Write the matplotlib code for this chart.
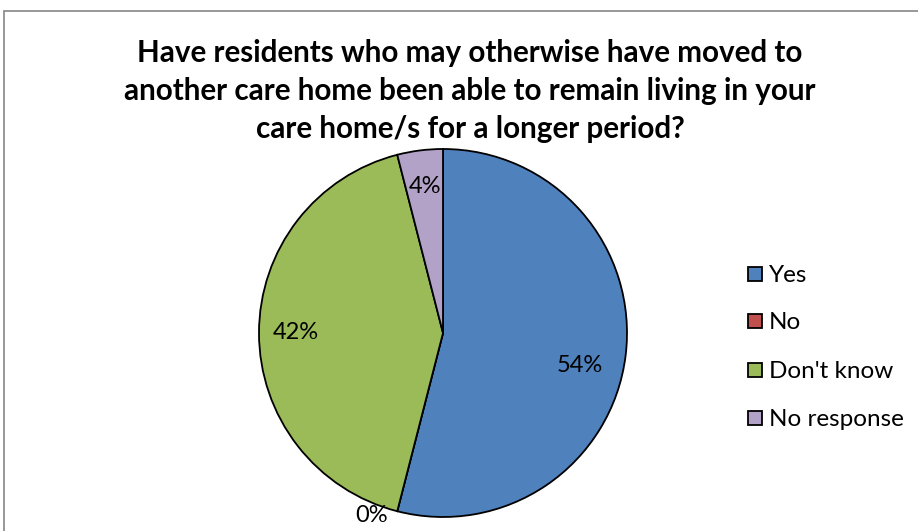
import matplotlib
matplotlib.use("Agg")
import matplotlib.pyplot as plt
import numpy as np
from matplotlib.patches import Rectangle

categories = ["Yes", "No", "Don't know", "No response"]
values = [54, 0, 42, 4]
colors = ["#4F81BD", "#C0504D", "#9BBB59", "#B3A2C7"]
title_lines = ["Have residents who may otherwise have moved to",
               "another care home been able to remain living in your",
               "care home/s for a longer period?"]

plt.rcParams['font.family'] = ['Lato', 'DejaVu Sans']

W, H = 918, 531
fig = plt.figure(figsize=(W/100, H/100), dpi=100)
fig.patch.set_facecolor("white")

# outer chart border
fig.add_artist(Rectangle((4/W, -0.1), 1.2, (H-11)/H + 0.1, transform=fig.transFigure,
                         fill=False, edgecolor="#868686", linewidth=1.2))

cx, cy, r = 443, 333, 184
ax = fig.add_axes([(cx-r)/W, (H-cy-r)/H, 2*r/W, 2*r/H])
wedges, _ = ax.pie(values, colors=colors, startangle=90, counterclock=False,
                   wedgeprops=dict(edgecolor="black", linewidth=1.3))
ax.set_xlim(-1, 1); ax.set_ylim(-1, 1)
ax.set_aspect("equal")
ax.axis("off")

for w, v in zip(wedges, values):
    mid = np.deg2rad((w.theta1 + w.theta2) / 2)
    d = 1.07 if v == 0 else 0.8
    x, y = d*np.cos(mid), d*np.sin(mid)
    if v == 0:
        x, y = -0.39, -0.99
    elif v == 54:
        x, y = 0.745, -0.175
    ax.text(x, y, f"{v}%", ha="center", va="center", fontsize=17, color="black")

for line, yy in zip(title_lines, [62, 100, 138]):
    fig.text(470/W, (H-yy)/H, line, ha="center", va="baseline", fontsize=21.3,
             fontweight="bold", zorder=10)

leg_y = [274, 321, 370, 418]
sq = 14
for name, col, yy in zip(categories, colors, leg_y):
    fig.add_artist(Rectangle(((755-sq/2)/W, (H-yy-sq/2)/H), sq/W, sq/H, transform=fig.transFigure,
                             facecolor=col, edgecolor="black", linewidth=1.3))
    fig.text(769/W, (H-yy-8)/H, name, ha="left", va="baseline", fontsize=17.5)

fig.savefig("out.png", dpi=100)
